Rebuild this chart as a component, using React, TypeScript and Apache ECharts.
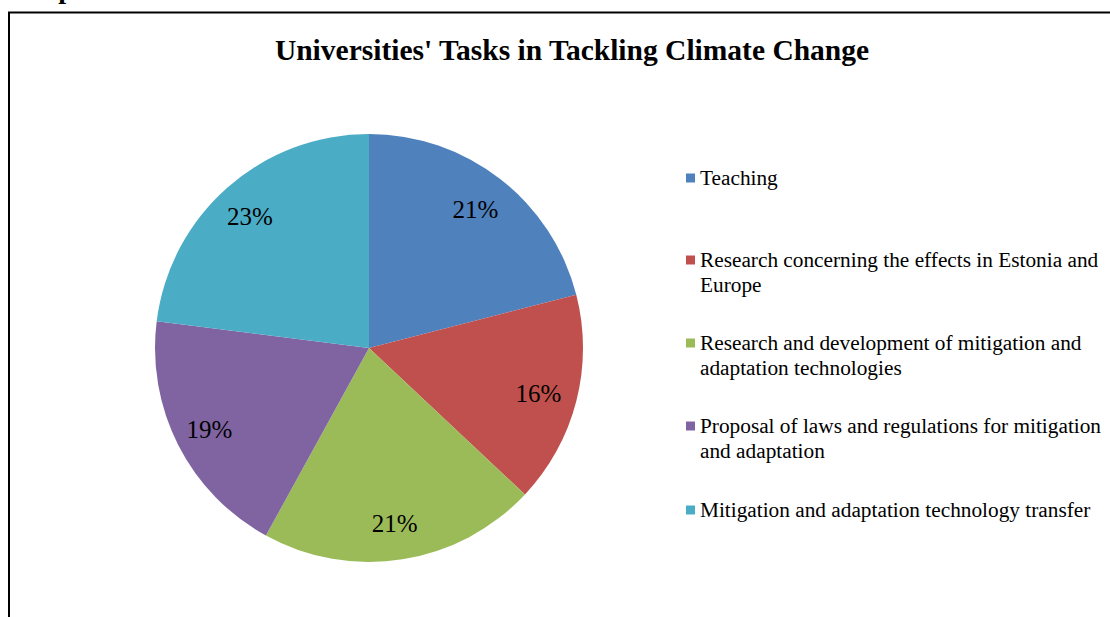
import React, { useEffect, useRef } from "react";
import * as echarts from "echarts";

const titleText = "Universities' Tasks in Tackling Climate Change";
const captionText = "Graph 3.3.";
const categories = [
  "Teaching",
  "Research concerning the effects in Estonia and Europe",
  "Research and development of mitigation and adaptation technologies",
  "Proposal of laws and regulations for mitigation and adaptation",
  "Mitigation and adaptation technology transfer",
];
const legendLabels = [
  "Teaching",
  "Research concerning the effects in Estonia and\nEurope",
  "Research and development of mitigation and\nadaptation technologies",
  "Proposal of laws and regulations for mitigation\nand adaptation",
  "Mitigation and adaptation technology transfer",
];
const shares = [21, 16, 21, 19, 23];
const colors = ["#4F81BD", "#C0504D", "#9BBB59", "#8064A2", "#4BACC6"];

const FONT = "'Liberation Serif', 'Times New Roman', serif";

export default function App() {
  const ref = useRef<HTMLDivElement>(null);
  useEffect(() => {
    if (!ref.current) return;
    const chart = echarts.init(ref.current, undefined, { renderer: "svg" });
    const data = categories.map((name, i) => ({
      name,
      value: shares[i],
      itemStyle: { color: colors[i] },
    }));
    const legendCenters = [178, 260, 343, 426, 510];
    const legendGraphics: any[] = [];
    legendLabels.forEach((lbl, i) => {
      legendGraphics.push({
        type: "rect",
        shape: { x: 686, y: legendCenters[i] - 4.5, width: 9, height: 9 },
        style: { fill: colors[i] },
      });
      legendGraphics.push({
        type: "text",
        x: 700,
        y: legendCenters[i] - 12.5,
        style: {
          text: lbl,
          font: `21.3px ${FONT}`,
          fill: "#000",
          lineHeight: 25,
          verticalAlign: "top",
          align: "left",
        },
      });
    });
    chart.setOption({
      animation: false,
      backgroundColor: "#ffffff",
      title: {
        text: titleText,
        left: 567,
        top: 30,
        textAlign: "center",
        textStyle: {
          fontFamily: FONT,
          fontSize: 29.5,
          fontWeight: "bold",
          color: "#000",
        },
      },
      graphic: [
        {
          type: "rect",
          shape: { x: 9, y: 12.5, width: 1200, height: 700 },
          style: { fill: "none", stroke: "#000", lineWidth: 2 },
        },
        {
          type: "text",
          x: 10,
          y: -26,
          style: {
            text: captionText,
            font: `bold 28px ${FONT}`,
            fill: "#000",
            verticalAlign: "top",
          },
        },
        ...legendGraphics,
      ],
      series: [
        {
          type: "pie",
          center: [369, 348],
          radius: [0, 214],
          startAngle: 90,
          clockwise: true,
          avoidLabelOverlap: false,
          label: { show: false },
          labelLine: { show: false },
          silent: true,
          data,
        },
        {
          type: "pie",
          center: [367, 349],
          radius: [134, 214],
          startAngle: 90,
          clockwise: true,
          avoidLabelOverlap: false,
          silent: true,
          itemStyle: { color: "rgba(0,0,0,0)", borderWidth: 0 },
          label: {
            show: true,
            position: "inside",
            formatter: (p: any) => `${p.value}%`,
            fontFamily: FONT,
            fontSize: 25,
            color: "#000",
          },
          labelLine: { show: false },
          data: categories.map((name, i) => ({ name, value: shares[i] })),
        },
      ],
    });
    return () => chart.dispose();
  }, []);
  return (
    <div
      ref={ref}
      style={{ position: "absolute", left: 0, top: 0, width: 1110, height: 617 }}
    />
  );
}
